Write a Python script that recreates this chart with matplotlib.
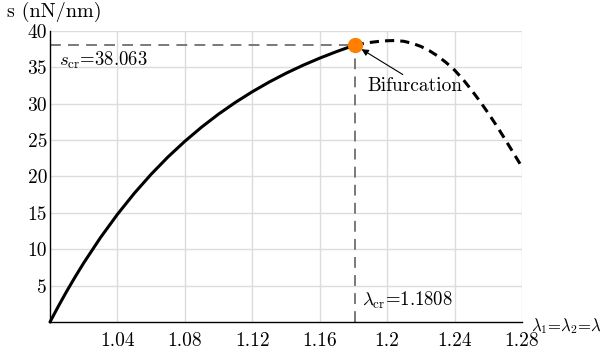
import matplotlib
matplotlib.use("Agg")
import matplotlib.pyplot as plt

plt.rcParams['font.family'] = 'serif'
plt.rcParams['font.serif'] = ['cmr10', 'DejaVu Serif']
plt.rcParams['mathtext.fontset'] = 'cm'
plt.rcParams['axes.unicode_minus'] = False

# stabiler Ast (bis zur Verzweigung)
lam_stable = [1.00, 1.005, 1.01, 1.015, 1.02, 1.03, 1.04, 1.05, 1.06, 1.07, 1.08,
              1.09, 1.10, 1.11, 1.12, 1.13, 1.14, 1.15, 1.16, 1.17, 1.1808]
s_stable = [0.0, 2.18, 4.26, 6.23, 8.12, 11.62, 14.80, 17.69, 20.31, 22.69, 24.84,
            26.80, 28.58, 30.19, 31.65, 32.98, 34.19, 35.28, 36.27, 37.17, 38.063]

# instabiler Ast (gestrichelt)
lam_unstable = [1.1808, 1.185, 1.19, 1.195, 1.20, 1.205, 1.21, 1.215, 1.22, 1.225,
                1.23, 1.235, 1.24, 1.245, 1.25, 1.255, 1.26, 1.265, 1.27, 1.275, 1.28]
s_unstable = [38.063, 38.25, 38.43, 38.57, 38.66, 38.69, 38.58, 38.30, 37.88, 37.30,
              36.56, 35.66, 34.62, 33.35, 31.90, 30.35, 28.70, 26.95, 25.10, 23.20, 21.30]

lam_cr = 1.1808
s_cr = 38.063

xticks = [1.04, 1.08, 1.12, 1.16, 1.2, 1.24, 1.28]
xtick_labels = ['1.04', '1.08', '1.12', '1.16', '1.2', '1.24', '1.28']
yticks = [5, 10, 15, 20, 25, 30, 35, 40]

fig = plt.figure(figsize=(6.02, 3.54), dpi=100)
ax = fig.add_axes([50 / 602, 32 / 354, 472 / 602, 291 / 354])

ax.set_xlim(1.0, 1.28)
ax.set_ylim(0, 40)
ax.set_xticks(xticks)
ax.set_xticklabels(xtick_labels)
ax.set_yticks(yticks)
ax.tick_params(length=0, labelsize=14)
ax.tick_params(axis='x', pad=7)
ax.tick_params(axis='y', pad=2)
ax.grid(True, color='#dcdcdc', lw=1)
ax.set_axisbelow(True)
for side in ['top', 'right']:
    ax.spines[side].set_visible(False)
for side in ['left', 'bottom']:
    ax.spines[side].set_color('black')
    ax.spines[side].set_linewidth(1.0)

# Hilfslinien zum Verzweigungspunkt
ax.plot([1.0, lam_cr], [s_cr, s_cr], color='#6e6e6e', lw=1.3, dashes=(6, 4), zorder=2)
ax.plot([lam_cr, lam_cr], [0, s_cr], color='#6e6e6e', lw=1.3, dashes=(6, 4), zorder=2)

ax.plot(lam_stable, s_stable, color='black', lw=2.2, zorder=3, clip_on=False,
        solid_capstyle='round', solid_joinstyle='round')
ax.plot(lam_unstable, s_unstable, color='black', lw=2.2, dashes=(3, 2), zorder=3)
ax.plot([lam_cr], [s_cr], 'o', color='#ff8000', ms=10, zorder=4, clip_on=False)

ax.text(1.0053, 36.0, r'$s_{\rm cr}$=38.063', fontsize=13.5, va='center', ha='left')
ax.text(1.185, 3.0, r'$\lambda_{\rm cr}$=1.1808', fontsize=13.5, va='center', ha='left')
ax.annotate('Bifurcation', xy=(1.1848, 37.5), xytext=(1.1883, 32.4),
            fontsize=14, va='center', ha='left',
            arrowprops=dict(arrowstyle='-|>', color='black', lw=0.8,
                            shrinkA=0, shrinkB=0, mutation_scale=10,
                            relpos=(0.42, 1.0)))

fig.text(7 / 602, 1 - 12 / 354, 's (nN/nm)', fontsize=14.5, va='center', ha='left')
fig.text(531 / 602, 1 - 326 / 354, r'$\lambda_1$=$\lambda_2$=$\lambda$',
         fontsize=12, va='center', ha='left')

fig.savefig('out.png', dpi=100)
